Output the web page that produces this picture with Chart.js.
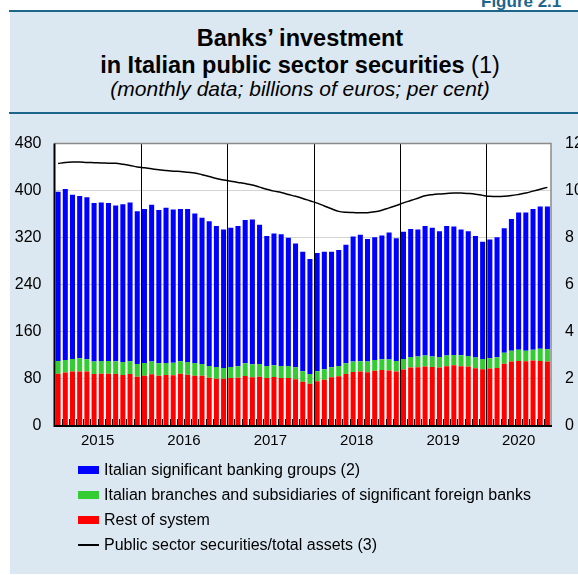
<!DOCTYPE html>
<html><head><meta charset="utf-8">
<script src="https://cdn.jsdelivr.net/npm/chart.js@4"></script>
<style>
html,body{margin:0;padding:0;width:578px;height:575px;overflow:hidden;background:#fff;font-family:"Liberation Sans",Arial,Helvetica,sans-serif;}
#panel{position:absolute;left:10px;top:11px;width:640px;height:563px;background:#dce8f1;}
.rule{position:absolute;left:9px;width:640px;height:2px;background:#1e6689;}
#fig{position:absolute;left:481px;top:-7px;font-size:17px;font-weight:bold;color:#1e6689;white-space:nowrap;line-height:17px;}
.t{position:absolute;left:0;width:600px;text-align:center;white-space:nowrap;color:#000;}
#t1{top:24px;font-size:23.5px;font-weight:bold;line-height:28px;}
#t2{top:51px;font-size:23.5px;line-height:28px;}
#t3{top:77px;font-size:21px;font-style:italic;line-height:24px;}
#c{position:absolute;left:0;top:120px;}
.lg{position:absolute;left:78px;height:20px;font-size:16px;line-height:20px;white-space:nowrap;color:#000;}
.lg span.b{position:absolute;left:0;top:6px;width:21px;height:8px;}
.lg span.l{position:absolute;left:0;top:9px;width:21px;height:2px;background:#000;}
.lg span.x{position:absolute;left:26px;top:0;}
</style></head>
<body>
<div id="panel"></div>
<div class="rule" style="top:10px"></div>
<div class="rule" style="top:112px"></div>
<div id="fig">Figure 2.1</div>
<div class="t" id="t1">Banks’ investment</div>
<div class="t" id="t2"><b>in Italian public sector securities</b> (1)</div>
<div class="t" id="t3">(monthly data; billions of euros; per cent)</div>
<canvas id="c" width="640" height="346"></canvas>
<div class="lg" style="top:460px"><span class="b" style="background:#0000ff"></span><span class="x">Italian significant banking groups (2)</span></div>
<div class="lg" style="top:485px"><span class="b" style="background:#33cc33"></span><span class="x">Italian branches and subsidiaries of significant foreign banks</span></div>
<div class="lg" style="top:510px"><span class="b" style="background:#ff0000"></span><span class="x">Rest of system</span></div>
<div class="lg" style="top:535px"><span class="l"></span><span class="x">Public sector securities/total assets (3)</span></div>
<script>
const categories = [
'2015-01','2015-02','2015-03','2015-04','2015-05','2015-06','2015-07','2015-08','2015-09','2015-10','2015-11','2015-12',
'2016-01','2016-02','2016-03','2016-04','2016-05','2016-06','2016-07','2016-08','2016-09','2016-10','2016-11','2016-12',
'2017-01','2017-02','2017-03','2017-04','2017-05','2017-06','2017-07','2017-08','2017-09','2017-10','2017-11','2017-12',
'2018-01','2018-02','2018-03','2018-04','2018-05','2018-06','2018-07','2018-08','2018-09','2018-10','2018-11','2018-12',
'2019-01','2019-02','2019-03','2019-04','2019-05','2019-06','2019-07','2019-08','2019-09','2019-10','2019-11','2019-12',
'2020-01','2020-02','2020-03','2020-04','2020-05','2020-06','2020-07','2020-08','2020-09'];
const yearLabels = ['2015','2016','2017','2018','2019','2020'];

const restOfSystem = [
89,90.8,92.5,92.5,92.5,88.5,89,89,88.5,86.8,88.5,83.9,
85.6,87.9,85.6,86.8,86.2,89,87.3,85.6,85.6,82.2,80.5,80.5,
81.6,82.2,85,82.7,83.9,81.6,83.3,81.6,81.6,79.3,75.3,71.9,
75.9,78.7,82.7,84.4,88.5,91.9,92.5,91.3,94,95.3,94.2,92.5,
95.9,99.3,99.8,101,100.4,99.3,101.5,103.2,101.5,101,98.1,96.4,
97.6,98.7,106,109.5,110.6,110,111.2,110.6,109.5];
const foreignBanks = [
21.6,21.5,21.5,22.7,21,21,21.6,21.6,21.5,22.1,21.5,21.5,
21.6,21.6,21,20.4,21.5,21,21.6,21.6,19.8,19.8,19.8,18.1,
18.7,19.3,21.6,22.2,21.5,20.4,19.9,20.4,20.4,20.5,17.7,16.6,
17.1,17.7,17.1,17.6,18.1,17.6,17.5,18.2,18,18.2,18.7,18.1,
18.1,18.1,18.2,18.7,17.6,18.1,18.2,17.6,18.8,18.1,18.2,17.6,
17.6,18.2,18.3,18.2,18.8,17.7,18.2,20.5,21];
const significantGroups = [
287.4,290.7,279,275.8,275.5,269.5,269.4,268.4,265,268.1,270,259.6,
261.8,266.5,260.4,263.8,260.3,259,260.1,253.8,248.6,246,239.7,235.4,
236.7,238.5,243.4,246.1,236.6,221,223.8,224,218,210.2,203,195.5,
201,199.6,196.2,197,201.4,212.5,215,208.5,209,210.5,216.1,208.4,
216,217.6,216,220.3,219,213.6,220.3,218.2,213.7,211.9,206.7,199,
201.8,204.1,211.7,224.3,233.6,235.3,239.6,241.9,242.5];
const securitiesToAssets = [
11.15,11.2,11.22,11.22,11.2,11.19,11.18,11.17,11.16,11.12,11.07,11.01,
10.97,10.93,10.89,10.86,10.83,10.81,10.78,10.75,10.68,10.6,10.52,10.45,
10.4,10.35,10.3,10.24,10.15,10.06,9.98,9.92,9.84,9.76,9.67,9.57,
9.47,9.35,9.23,9.12,9.08,9.07,9.06,9.06,9.1,9.17,9.27,9.37,
9.48,9.58,9.68,9.78,9.83,9.86,9.88,9.9,9.9,9.88,9.85,9.8,
9.76,9.75,9.76,9.79,9.84,9.9,9.98,10.06,10.14];

const FONT = '"Liberation Sans", Arial, Helvetica, sans-serif';

const deco = {
  id: 'deco',
  beforeDraw(c) {
    const {ctx, chartArea: a} = c;
    ctx.save();
    ctx.fillStyle = '#ffffff';
    ctx.fillRect(a.left, a.top, a.right - a.left, a.bottom - a.top);
    ctx.restore();
  },
  afterDatasetsDraw(c) {
    const {ctx, chartArea: a, scales: {x}} = c;
    ctx.save();
    ctx.strokeStyle = '#000';
    ctx.lineWidth = 1;
    const n = categories.length;
    for (let i = 1; i < n; i++) {
      const px = Math.round((x.getPixelForValue(i - 1) + x.getPixelForValue(i)) / 2) + 0.5;
      ctx.beginPath();
      if (categories[i].endsWith('-01')) {
        ctx.moveTo(px, a.top); ctx.lineTo(px, a.bottom);
      } else {
        ctx.moveTo(px, a.bottom - 7); ctx.lineTo(px, a.bottom);
      }
      ctx.stroke();
    }
    ctx.strokeStyle = '#8a8a8a';
    ctx.lineWidth = 1.5;
    ctx.beginPath();
    ctx.moveTo(a.left, a.top); ctx.lineTo(a.right, a.top); ctx.lineTo(a.right, a.bottom);
    ctx.stroke();
    ctx.strokeStyle = '#000';
    ctx.lineWidth = 2;
    ctx.beginPath();
    ctx.moveTo(a.left, a.top); ctx.lineTo(a.left, a.bottom); ctx.lineTo(a.right + 1, a.bottom);
    ctx.stroke();
    ctx.fillStyle = '#000';
    ctx.font = '15px ' + FONT;
    ctx.textAlign = 'center';
    ctx.textBaseline = 'middle';
    yearLabels.forEach(y => {
      const idx = categories.map((m, i) => m.startsWith(y) ? i : -1).filter(i => i >= 0);
      const first = idx[0], last = idx[idx.length - 1];
      const cx = (x.getPixelForValue(first) + x.getPixelForValue(last)) / 2;
      ctx.fillText(y, cx, a.bottom + 15);
    });
    ctx.restore();
  }
};

new Chart(document.getElementById('c'), {
  data: {
    labels: categories,
    datasets: [
      {type: 'line', label: 'Public sector securities/total assets (3)', data: securitiesToAssets, yAxisID: 'y1',
       borderColor: '#000', borderWidth: 1.5, pointRadius: 0, tension: 0.4, order: 0},
      {type: 'bar', label: 'Rest of system', data: restOfSystem, backgroundColor: '#ff0000', yAxisID: 'y',
       barPercentage: 0.7, categoryPercentage: 1, order: 1},
      {type: 'bar', label: 'Italian branches and subsidiaries of significant foreign banks', data: foreignBanks, backgroundColor: '#33cc33', yAxisID: 'y',
       barPercentage: 0.7, categoryPercentage: 1, order: 1},
      {type: 'bar', label: 'Italian significant banking groups (2)', data: significantGroups, backgroundColor: '#0000ff', yAxisID: 'y',
       barPercentage: 0.7, categoryPercentage: 1, order: 1}
    ]
  },
  options: {
    responsive: false,
    devicePixelRatio: 1,
    animation: false,
    layout: {padding: {top: 23.5, left: 0, right: 0, bottom: 0}},
    plugins: {legend: {display: false}, tooltip: {enabled: false}},
    scales: {
      x: {
        stacked: true,
        grid: {display: false},
        border: {display: false},
        ticks: {display: false},
        afterFit(s) { s.height = 40; }
      },
      y: {
        stacked: true,
        position: 'left',
        min: 0, max: 480,
        ticks: {stepSize: 80, color: '#000', font: {size: 16, family: FONT}, padding: 13},
        grid: {color: '#d4d4d4', lineWidth: 1, drawTicks: false},
        border: {display: false},
        afterFit(s) { s.width = 54.5; }
      },
      y1: {
        position: 'right',
        min: 0, max: 12,
        ticks: {stepSize: 2, color: '#000', font: {size: 16, family: FONT}, padding: 14},
        grid: {display: false, drawTicks: false},
        border: {display: false},
        afterFit(s) { s.width = 89; }
      }
    }
  },
  plugins: [deco]
});
</script>
</body></html>
